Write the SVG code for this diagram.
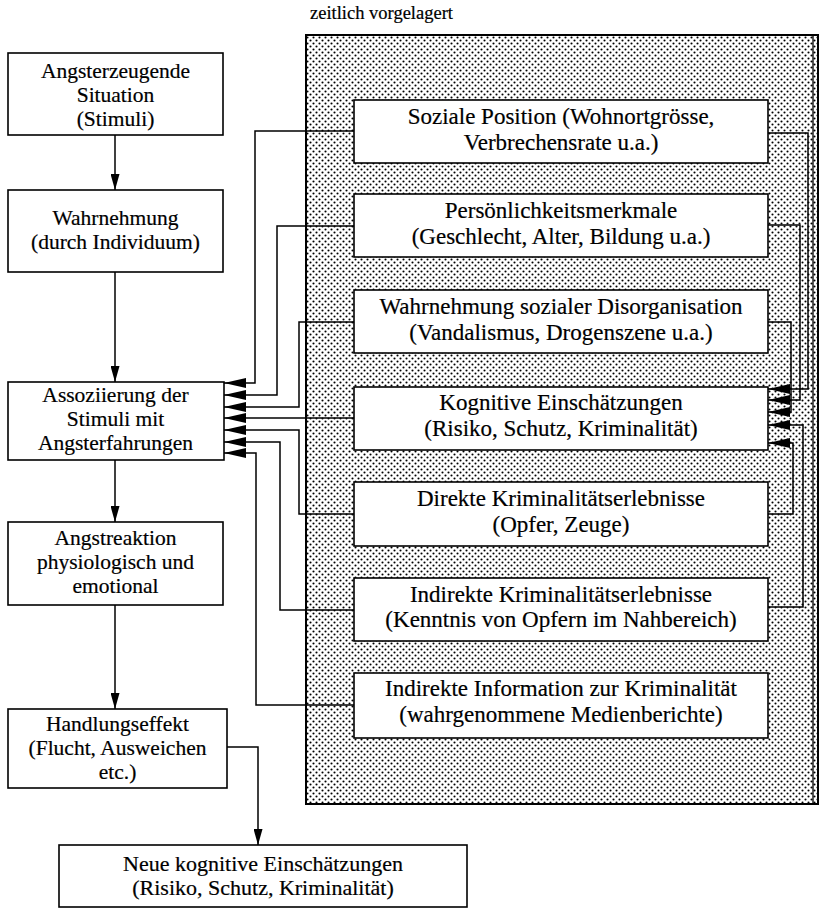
<svg xmlns="http://www.w3.org/2000/svg" width="821" height="911" viewBox="0 0 821 911">
<defs>
<pattern id="dots" x="0" y="0" width="6" height="6" patternUnits="userSpaceOnUse">
<rect width="6" height="6" fill="#fff"/>
<circle cx="1.5" cy="1.5" r="1.05" fill="#000"/>
<circle cx="4.5" cy="4.5" r="1.05" fill="#000"/>
</pattern>
<marker id="big" markerUnits="userSpaceOnUse" markerWidth="22" markerHeight="10" refX="22" refY="5" orient="auto">
<path d="M0,0 L22,5 L0,10 Z" fill="#000"/>
</marker>
<marker id="small" markerUnits="userSpaceOnUse" markerWidth="16" markerHeight="9" refX="16" refY="4.5" orient="auto">
<path d="M0,0 L16,4.5 L0,9 Z" fill="#000"/>
</marker>
</defs>
<style>
.box{fill:#fff;stroke:#000;stroke-width:1.6}
.t{font-family:"Liberation Serif","Times New Roman",serif;font-size:23px;fill:#000;stroke:#000;stroke-width:0.2;text-anchor:middle}
.l{font-size:21.5px}
.n{font-size:22px}
.c{fill:none;stroke:#000;stroke-width:1.5}
</style>
<rect width="821" height="911" fill="#fff"/>
<g id="panel">
<rect x="306" y="35" width="512" height="769" fill="url(#dots)" stroke="#000" stroke-width="2"/>
<line x1="813" y1="35" x2="813" y2="804" stroke="#000" stroke-width="1.3"/>
<text x="310" y="19" class="t" style="text-anchor:start;font-size:18.5px">zeitlich vorgelagert</text>
</g>
<g id="connectors">
<path class="c" marker-end="url(#small)" d="M115,135 V190"/>
<path class="c" marker-end="url(#small)" d="M115,272 V382"/>
<path class="c" marker-end="url(#small)" d="M115,460 V522"/>
<path class="c" marker-end="url(#small)" d="M115,605 V709"/>
<path class="c" marker-end="url(#small)" d="M227,747 H258 V845"/>
<path class="c" marker-end="url(#big)" d="M354,131 H255 V383 H224"/>
<path class="c" marker-end="url(#big)" d="M354,226 H277 V395 H224"/>
<path class="c" marker-end="url(#big)" d="M354,322 H299 V407 H224"/>
<path class="c" marker-end="url(#big)" d="M354,418 H224"/>
<path class="c" marker-end="url(#big)" d="M354,514 H299 V430 H224"/>
<path class="c" marker-end="url(#big)" d="M354,610 H280 V442 H224"/>
<path class="c" marker-end="url(#big)" d="M354,705 H256 V453 H224"/>
<path class="c" marker-end="url(#big)" d="M768,133 H808 V389 H768"/>
<path class="c" marker-end="url(#big)" d="M768,225 H800 V400 H768"/>
<path class="c" marker-end="url(#big)" d="M768,322 H791 V412 H768"/>
<path class="c" marker-end="url(#big)" d="M768,607 H803 V425 H768"/>
<path class="c" marker-end="url(#big)" d="M768,514 H793 V443 H768"/>
</g>
<g id="n1"><rect class="box" x="8" y="53" width="215" height="82"/>
<text class="t l" x="115.5" y="78">Angsterzeugende</text><text class="t l" x="115.5" y="102">Situation</text><text class="t l" x="115.5" y="126">(Stimuli)</text></g>
<g id="n2"><rect class="box" x="8" y="190" width="215" height="82"/>
<text class="t l" x="115.5" y="225">Wahrnehmung</text><text class="t l" x="115.5" y="249">(durch Individuum)</text></g>
<g id="n3"><rect class="box" x="8" y="382" width="216" height="78"/>
<text class="t l" x="115.5" y="402">Assoziierung der</text><text class="t l" x="115.5" y="426">Stimuli mit</text><text class="t l" x="115.5" y="450">Angsterfahrungen</text></g>
<g id="n4"><rect class="box" x="8" y="522" width="215" height="83"/>
<text class="t l" x="115.5" y="545">Angstreaktion</text><text class="t l" x="115.5" y="569">physiologisch und</text><text class="t l" x="115.5" y="593">emotional</text></g>
<g id="n5"><rect class="box" x="8" y="709" width="219" height="79"/>
<text class="t l" x="117.5" y="731">Handlungseffekt</text><text class="t l" x="117.5" y="755">(Flucht, Ausweichen</text><text class="t l" x="117.5" y="779">etc.)</text></g>
<g id="n6"><rect class="box" x="59" y="845" width="408" height="62"/>
<text class="t n" x="263" y="870.5">Neue kognitive Einschätzungen</text><text class="t n" x="263" y="895">(Risiko, Schutz, Kriminalität)</text></g>
<g id="r1"><rect class="box" x="354" y="100" width="414" height="63"/>
<text class="t" x="561" y="124">Soziale Position (Wohnortgrösse,</text><text class="t" x="561" y="150">Verbrechensrate u.a.)</text></g>
<g id="r2"><rect class="box" x="354" y="194" width="414" height="63"/>
<text class="t" x="561" y="218">Persönlichkeitsmerkmale</text><text class="t" x="561" y="243.5">(Geschlecht, Alter, Bildung u.a.)</text></g>
<g id="r3"><rect class="box" x="354" y="290" width="414" height="63"/>
<text class="t" x="561" y="314">Wahrnehmung sozialer Disorganisation</text><text class="t" x="561" y="339.5">(Vandalismus, Drogenszene u.a.)</text></g>
<g id="r4"><rect class="box" x="354" y="387" width="414" height="63"/>
<text class="t" x="561" y="410">Kognitive Einschätzungen</text><text class="t" x="561" y="435.5">(Risiko, Schutz, Kriminalität)</text></g>
<g id="r5"><rect class="box" x="354" y="482" width="414" height="64"/>
<text class="t" x="561" y="506">Direkte Kriminalitätserlebnisse</text><text class="t" x="561" y="531.5">(Opfer, Zeuge)</text></g>
<g id="r6"><rect class="box" x="354" y="578" width="414" height="63"/>
<text class="t" x="561" y="601.5">Indirekte Kriminalitätserlebnisse</text><text class="t" x="561" y="627">(Kenntnis von Opfern im Nahbereich)</text></g>
<g id="r7"><rect class="box" x="354" y="673" width="414" height="65"/>
<text class="t" x="561" y="696">Indirekte Information zur Kriminalität</text><text class="t" x="561" y="721.5">(wahrgenommene Medienberichte)</text></g>
</svg>
